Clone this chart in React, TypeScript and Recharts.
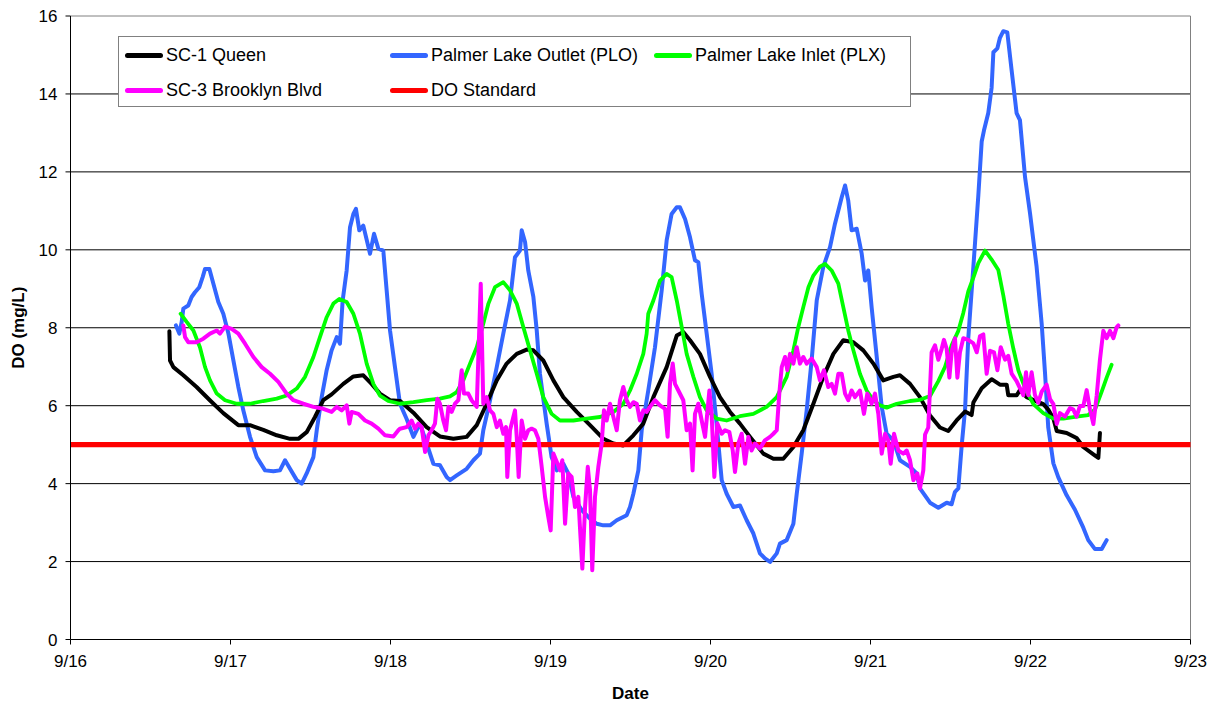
import React from 'react';
import { LineChart, Line, XAxis, YAxis, CartesianGrid, ReferenceLine, Legend } from 'recharts';

// Dissolved oxygen readings, [days after 9/16 00:00, DO mg/L]
const queenSeries: [number, number][] = [
  [0.618, 7.91], [0.622, 7.16], [0.643, 6.99], [0.705, 6.78], [0.788, 6.48], [0.871, 6.14], [0.955, 5.81],
  [1.049, 5.5], [1.122, 5.5], [1.205, 5.38], [1.289, 5.24], [1.372, 5.15], [1.424, 5.15], [1.476, 5.32],
  [1.528, 5.71], [1.58, 6.14], [1.632, 6.29], [1.705, 6.56], [1.768, 6.75], [1.83, 6.78], [1.882, 6.56],
  [1.934, 6.31], [1.997, 6.14], [2.06, 6.12], [2.143, 5.82], [2.226, 5.45], [2.309, 5.21], [2.393, 5.15],
  [2.476, 5.2], [2.539, 5.5], [2.601, 6.05], [2.664, 6.65], [2.726, 7.08], [2.789, 7.33], [2.851, 7.44],
  [2.893, 7.42], [2.955, 7.16], [3.018, 6.65], [3.08, 6.22], [3.164, 5.84], [3.247, 5.5], [3.331, 5.15],
  [3.393, 5.03], [3.455, 4.98], [3.518, 5.24], [3.58, 5.54], [3.643, 6.22], [3.726, 6.99], [3.789, 7.8],
  [3.83, 7.89], [3.872, 7.68], [3.934, 7.33], [3.997, 6.74], [4.059, 6.22], [4.122, 5.84], [4.184, 5.54],
  [4.247, 5.2], [4.33, 4.77], [4.393, 4.64], [4.455, 4.64], [4.518, 4.94], [4.58, 5.37], [4.643, 6.05],
  [4.705, 6.74], [4.768, 7.33], [4.83, 7.68], [4.893, 7.63], [4.955, 7.42], [5.018, 7.08], [5.08, 6.65],
  [5.143, 6.74], [5.184, 6.78], [5.247, 6.56], [5.309, 6.22], [5.372, 5.75], [5.434, 5.44], [5.486, 5.35],
  [5.538, 5.62], [5.591, 5.85], [5.632, 5.76], [5.643, 6.08], [5.695, 6.45], [5.757, 6.68], [5.809, 6.54],
  [5.851, 6.54], [5.861, 6.27], [5.914, 6.27], [5.934, 6.4], [5.976, 6.22], [6.028, 6.13], [6.08, 6.04],
  [6.111, 5.9], [6.143, 5.67], [6.164, 5.35], [6.226, 5.3], [6.288, 5.17], [6.33, 4.94], [6.393, 4.75],
  [6.424, 4.66], [6.434, 5.3],
];

const outletSeries: [number, number][] = [
  [0.659, 8.06], [0.68, 7.85], [0.695, 8.15], [0.705, 8.49], [0.736, 8.57], [0.757, 8.79], [0.778, 8.91],
  [0.805, 9.04], [0.826, 9.3], [0.841, 9.51], [0.868, 9.51], [0.893, 9.13], [0.924, 8.66], [0.955, 8.36],
  [0.987, 7.85], [1.018, 7.16], [1.049, 6.48], [1.08, 5.88], [1.122, 5.2], [1.164, 4.68], [1.216, 4.34],
  [1.268, 4.32], [1.309, 4.34], [1.341, 4.6], [1.372, 4.38], [1.414, 4.09], [1.445, 4.0], [1.476, 4.26],
  [1.518, 4.68], [1.539, 5.37], [1.57, 6.22], [1.601, 6.91], [1.632, 7.42], [1.664, 7.76], [1.684, 7.59],
  [1.701, 8.7], [1.726, 9.47], [1.747, 10.58], [1.768, 10.92], [1.784, 11.05], [1.805, 10.5], [1.83, 10.62],
  [1.872, 9.9], [1.897, 10.41], [1.924, 10.03], [1.955, 9.98], [1.976, 8.96], [1.997, 7.93], [2.028, 6.99],
  [2.059, 6.05], [2.101, 5.66], [2.143, 5.2], [2.184, 5.54], [2.226, 5.03], [2.268, 4.51], [2.309, 4.47],
  [2.351, 4.17], [2.372, 4.09], [2.414, 4.21], [2.476, 4.38], [2.518, 4.6], [2.559, 4.77], [2.58, 5.37],
  [2.622, 6.14], [2.664, 6.99], [2.705, 7.85], [2.747, 8.7], [2.778, 9.81], [2.809, 9.98], [2.82, 10.5],
  [2.841, 10.2], [2.861, 9.47], [2.893, 8.79], [2.914, 7.93], [2.934, 6.82], [2.976, 5.54], [3.007, 4.68],
  [3.039, 4.34], [3.08, 4.51], [3.111, 4.26], [3.143, 3.66], [3.195, 3.32], [3.247, 3.1], [3.289, 2.97],
  [3.33, 2.93], [3.372, 2.93], [3.414, 3.06], [3.476, 3.19], [3.497, 3.4], [3.518, 3.74], [3.549, 4.34],
  [3.57, 5.37], [3.611, 6.39], [3.653, 7.5], [3.695, 8.96], [3.726, 10.24], [3.757, 10.92], [3.789, 11.09],
  [3.809, 11.09], [3.841, 10.79], [3.872, 10.32], [3.903, 9.73], [3.924, 9.68], [3.945, 8.87], [3.976, 7.85],
  [4.007, 6.82], [4.038, 5.54], [4.07, 4.09], [4.101, 3.74], [4.143, 3.4], [4.184, 3.44], [4.226, 3.06],
  [4.268, 2.72], [4.309, 2.21], [4.34, 2.08], [4.372, 1.99], [4.414, 2.21], [4.434, 2.46], [4.476, 2.55],
  [4.518, 2.97], [4.539, 3.74], [4.57, 4.77], [4.601, 5.88], [4.632, 7.16], [4.664, 8.7], [4.705, 9.56],
  [4.747, 10.07], [4.778, 10.67], [4.799, 11.01], [4.82, 11.35], [4.841, 11.65], [4.861, 11.26], [4.882, 10.5],
  [4.914, 10.54], [4.945, 9.9], [4.966, 9.21], [4.986, 9.47], [5.007, 8.53], [5.039, 7.25], [5.07, 5.97],
  [5.101, 5.28], [5.143, 5.11], [5.184, 4.6], [5.247, 4.43], [5.289, 4.26], [5.309, 3.88], [5.372, 3.51],
  [5.424, 3.38], [5.476, 3.51], [5.507, 3.47], [5.528, 3.79], [5.549, 3.88], [5.57, 4.98], [5.591, 5.9],
  [5.611, 7.73], [5.643, 9.57], [5.674, 11.4], [5.695, 12.78], [5.709, 13.06], [5.736, 13.51], [5.757, 14.16],
  [5.768, 15.07], [5.793, 15.17], [5.809, 15.44], [5.83, 15.61], [5.855, 15.58], [5.882, 14.61], [5.913, 13.51],
  [5.934, 13.33], [5.966, 11.86], [5.997, 10.94], [6.038, 9.57], [6.07, 8.1], [6.091, 6.82], [6.111, 5.44],
  [6.143, 4.52], [6.174, 4.16], [6.226, 3.7], [6.278, 3.33], [6.33, 2.87], [6.361, 2.55], [6.403, 2.32],
  [6.445, 2.32], [6.476, 2.55],
];

const inletSeries: [number, number][] = [
  [0.688, 8.36], [0.726, 8.15], [0.768, 7.93], [0.809, 7.5], [0.841, 6.99], [0.872, 6.65], [0.914, 6.31],
  [0.966, 6.14], [1.039, 6.05], [1.122, 6.05], [1.205, 6.12], [1.289, 6.18], [1.351, 6.26], [1.414, 6.44],
  [1.466, 6.74], [1.518, 7.25], [1.559, 7.76], [1.601, 8.27], [1.643, 8.62], [1.68, 8.74], [1.726, 8.66],
  [1.768, 8.36], [1.809, 7.85], [1.851, 7.08], [1.893, 6.56], [1.934, 6.26], [1.986, 6.12], [2.059, 6.05],
  [2.143, 6.09], [2.226, 6.14], [2.309, 6.18], [2.372, 6.24], [2.414, 6.35], [2.455, 6.65], [2.497, 7.08],
  [2.539, 7.5], [2.58, 8.1], [2.612, 8.62], [2.653, 9.04], [2.705, 9.17], [2.747, 8.96], [2.789, 8.62],
  [2.83, 8.02], [2.872, 7.42], [2.914, 6.82], [2.955, 6.22], [3.007, 5.79], [3.059, 5.62], [3.143, 5.62],
  [3.226, 5.67], [3.309, 5.71], [3.393, 5.84], [3.455, 6.05], [3.497, 6.39], [3.539, 6.82], [3.58, 7.33],
  [3.601, 7.85], [3.611, 8.36], [3.643, 8.7], [3.684, 9.21], [3.726, 9.38], [3.757, 9.3], [3.789, 8.7],
  [3.82, 8.02], [3.851, 7.33], [3.893, 6.74], [3.934, 6.22], [3.976, 5.88], [4.038, 5.67], [4.101, 5.62],
  [4.184, 5.73], [4.268, 5.79], [4.351, 5.97], [4.414, 6.22], [4.476, 6.74], [4.518, 7.42], [4.549, 8.02],
  [4.58, 8.53], [4.612, 9.04], [4.643, 9.34], [4.684, 9.57], [4.716, 9.64], [4.757, 9.47], [4.799, 9.13],
  [4.83, 8.53], [4.861, 7.93], [4.893, 7.42], [4.934, 6.82], [4.976, 6.39], [5.018, 6.14], [5.059, 6.01],
  [5.101, 5.95], [5.164, 6.05], [5.247, 6.12], [5.309, 6.15], [5.372, 6.25], [5.424, 6.63], [5.466, 7.0],
  [5.507, 7.55], [5.549, 7.92], [5.58, 8.38], [5.611, 8.93], [5.643, 9.29], [5.674, 9.66], [5.716, 9.98],
  [5.757, 9.75], [5.799, 9.48], [5.83, 8.83], [5.861, 8.1], [5.893, 7.46], [5.924, 6.91], [5.966, 6.45],
  [6.018, 6.04], [6.08, 5.81], [6.143, 5.67], [6.205, 5.67], [6.288, 5.72], [6.361, 5.76], [6.403, 5.9],
  [6.445, 6.36], [6.476, 6.72], [6.507, 7.05],
];

const brooklynSeries: [number, number][] = [
  [0.705, 8.06], [0.716, 7.76], [0.736, 7.63], [0.788, 7.63], [0.83, 7.72], [0.872, 7.85], [0.914, 7.93],
  [0.934, 7.85], [0.966, 8.03], [1.007, 7.97], [1.049, 7.85], [1.091, 7.59], [1.143, 7.25], [1.195, 6.99],
  [1.247, 6.82], [1.299, 6.61], [1.351, 6.31], [1.393, 6.14], [1.455, 6.05], [1.518, 5.97], [1.58, 5.92],
  [1.632, 5.84], [1.664, 5.97], [1.695, 5.88], [1.726, 6.01], [1.743, 5.54], [1.757, 5.84], [1.799, 5.79],
  [1.841, 5.62], [1.882, 5.54], [1.924, 5.41], [1.966, 5.24], [2.018, 5.21], [2.049, 5.37], [2.059, 5.41],
  [2.101, 5.45], [2.132, 5.62], [2.153, 5.41], [2.174, 5.54], [2.195, 5.45], [2.216, 4.81], [2.237, 5.24],
  [2.257, 5.37], [2.278, 5.54], [2.293, 6.18], [2.309, 6.05], [2.33, 5.62], [2.347, 5.37], [2.362, 5.97],
  [2.382, 5.84], [2.403, 6.05], [2.424, 6.14], [2.445, 6.91], [2.459, 6.31], [2.486, 6.31], [2.507, 6.14],
  [2.539, 5.97], [2.564, 9.13], [2.58, 6.05], [2.601, 6.22], [2.622, 5.88], [2.643, 5.79], [2.664, 5.45],
  [2.684, 5.62], [2.705, 5.28], [2.722, 5.45], [2.73, 4.17], [2.747, 5.37], [2.778, 5.88], [2.789, 5.2],
  [2.801, 4.17], [2.82, 5.62], [2.841, 5.15], [2.861, 5.37], [2.882, 5.41], [2.903, 5.37], [2.924, 5.15],
  [2.945, 4.43], [2.966, 3.66], [2.986, 3.15], [3.001, 2.8], [3.018, 4.77], [3.039, 4.56], [3.059, 4.34],
  [3.074, 4.6], [3.091, 2.97], [3.111, 4.26], [3.132, 4.17], [3.153, 3.4], [3.174, 3.66], [3.184, 2.89],
  [3.199, 1.82], [3.216, 3.4], [3.233, 4.43], [3.247, 3.83], [3.261, 1.78], [3.278, 3.66], [3.299, 4.43],
  [3.32, 5.03], [3.334, 5.88], [3.351, 5.62], [3.372, 6.05], [3.393, 5.71], [3.414, 5.37], [3.434, 6.14],
  [3.455, 6.48], [3.476, 6.14], [3.497, 5.97], [3.518, 6.09], [3.539, 6.05], [3.559, 5.62], [3.58, 5.88],
  [3.601, 5.84], [3.622, 5.97], [3.653, 6.14], [3.684, 6.01], [3.716, 5.92], [3.732, 5.2], [3.747, 6.56],
  [3.764, 7.08], [3.778, 6.56], [3.799, 6.39], [3.83, 6.14], [3.851, 5.37], [3.872, 5.54], [3.888, 4.34],
  [3.903, 5.79], [3.924, 6.05], [3.945, 5.62], [3.966, 5.2], [3.993, 6.39], [4.007, 5.79], [4.024, 4.17],
  [4.043, 5.54], [4.07, 5.28], [4.091, 5.37], [4.118, 5.32], [4.139, 4.85], [4.153, 4.3], [4.174, 5.03],
  [4.195, 5.28], [4.216, 4.51], [4.237, 5.2], [4.257, 4.85], [4.278, 5.03], [4.309, 4.9], [4.34, 5.11],
  [4.372, 5.2], [4.393, 5.28], [4.414, 5.37], [4.43, 6.31], [4.445, 6.99], [4.466, 7.25], [4.48, 6.91],
  [4.497, 7.33], [4.518, 7.08], [4.539, 7.5], [4.559, 7.08], [4.58, 7.25], [4.601, 7.08], [4.632, 7.21],
  [4.664, 6.99], [4.684, 6.65], [4.709, 6.91], [4.736, 6.48], [4.757, 6.56], [4.778, 6.31], [4.799, 6.82],
  [4.82, 6.82], [4.841, 6.31], [4.861, 6.14], [4.882, 6.39], [4.903, 6.22], [4.934, 6.39], [4.959, 5.79],
  [4.98, 6.31], [5.007, 6.05], [5.028, 6.31], [5.049, 5.79], [5.07, 4.77], [5.091, 5.28], [5.111, 5.11],
  [5.126, 4.51], [5.147, 5.28], [5.174, 4.85], [5.205, 4.77], [5.226, 4.85], [5.247, 4.6], [5.268, 4.09],
  [5.293, 4.26], [5.309, 3.88], [5.33, 4.34], [5.341, 5.26], [5.361, 5.44], [5.382, 7.37], [5.403, 7.55],
  [5.424, 7.18], [5.445, 7.46], [5.459, 7.69], [5.476, 7.46], [5.493, 6.72], [5.507, 7.37], [5.528, 7.73],
  [5.543, 6.72], [5.559, 7.37], [5.58, 7.73], [5.611, 7.69], [5.643, 7.6], [5.664, 7.37], [5.684, 7.78],
  [5.705, 7.83], [5.726, 6.82], [5.747, 7.41], [5.772, 7.37], [5.793, 6.91], [5.814, 7.5], [5.841, 7.18],
  [5.861, 7.28], [5.882, 6.82], [5.913, 6.63], [5.934, 6.45], [5.955, 6.27], [5.972, 6.86], [5.986, 6.27],
  [6.007, 6.86], [6.028, 6.27], [6.049, 6.08], [6.07, 6.36], [6.101, 6.54], [6.122, 6.17], [6.143, 6.04],
  [6.164, 5.53], [6.184, 5.81], [6.216, 5.72], [6.247, 5.94], [6.268, 5.9], [6.288, 5.72], [6.309, 5.99],
  [6.33, 5.99], [6.351, 6.4], [6.372, 5.9], [6.393, 5.53], [6.414, 6.27], [6.434, 7.18], [6.455, 7.92],
  [6.476, 7.73], [6.497, 7.92], [6.518, 7.73], [6.538, 8.01], [6.549, 8.06],
];

const doStandardSeries: [number, number][] = [
  [0, 5], [7, 5],
];

const dayTicks = [0, 1, 2, 3, 4, 5, 6, 7];
const dayLabels = ['9/16', '9/17', '9/18', '9/19', '9/20', '9/21', '9/22', '9/23'];
const doTicks = [0, 2, 4, 6, 8, 10, 12, 14, 16];
const gridValues = [2, 4, 6, 8, 10, 12, 14];

const seriesNames = ['SC-1 Queen', 'Palmer Lake Outlet (PLO)', 'Palmer Lake Inlet (PLX)', 'SC-3 Brooklyn Blvd', 'DO Standard'];
const seriesColors = ['#000000', '#3366ff', '#00ff00', '#ff00ff', '#ff0000'];
const seriesWidths = [4, 4, 3.8, 4, 5.2];
// paint order of the series (index into the lists above)
const drawOrder = [1, 0, 2, 4, 3];

const toPoints = (rows: [number, number][]) => rows.map(([d, v]) => ({ d, v }));
const seriesData = [queenSeries, outletSeries, inletSeries, brooklynSeries, doStandardSeries].map(toPoints);

const FONT = '"Liberation Sans", Arial, Helvetica, sans-serif';

// legend cells: [series index, column, row]
const legendCells: [number, number, number][] = [
  [0, 0, 0], [1, 1, 0], [2, 2, 0], [3, 0, 1], [4, 1, 1],
];
const legendColumnX = [7, 272, 536];
const legendRowY = [19, 54];

const LegendBox = () => (
  <div
    style={{
      position: 'relative',
      width: 793,
      height: 71,
      boxSizing: 'border-box',
      border: '1px solid #808080',
      background: '#fff',
      fontFamily: FONT,
      fontSize: 18,
      color: '#000',
    }}
  >
    {legendCells.map(([i, c, r]) => (
      <div
        key={seriesNames[i]}
        style={{
          position: 'absolute',
          left: legendColumnX[c] - 1,
          top: legendRowY[r] - 1 - 12,
          height: 24,
          display: 'flex',
          alignItems: 'center',
          whiteSpace: 'nowrap',
        }}
      >
        <span
          style={{
            display: 'inline-block',
            width: 38,
            height: 5,
            borderRadius: 2.5,
            background: seriesColors[i],
            marginRight: 3,
          }}
        />
        <span style={{ lineHeight: '24px' }}>{seriesNames[i]}</span>
      </div>
    ))}
  </div>
);

export default function App() {
  return (
    <div style={{ fontFamily: FONT }}>
      <LineChart width={1211} height={698} margin={{ top: 8, right: 28.5, bottom: 0, left: 0 }}>
        <CartesianGrid vertical={false} horizontalValues={gridValues} stroke="#000" strokeWidth={1} />
        <XAxis
          type="number"
          dataKey="d"
          domain={[0, 7]}
          ticks={dayTicks}
          interval={0}
          allowDataOverflow
          height={66.5}
          tickSize={5}
          tickMargin={10}
          tickFormatter={(v: number) => dayLabels[v] ?? ''}
          tick={{ fontSize: 17, fill: '#000', fontFamily: FONT }}
          stroke="#000"
          label={{
            value: 'Date',
            position: 'insideBottom',
            offset: 7,
            style: { fontSize: 17, fontWeight: 'bold', fill: '#000', fontFamily: FONT },
          }}
        />
        <YAxis
          type="number"
          domain={[0, 16]}
          ticks={doTicks}
          interval={0}
          width={62.5}
          tickSize={5}
          tickMargin={8}
          tick={{ fontSize: 17, fill: '#000', fontFamily: FONT }}
          stroke="#000"
          label={{
            value: 'DO (mg/L)',
            angle: -90,
            position: 'insideLeft',
            offset: 10,
            style: { textAnchor: 'middle', fontSize: 17, fontWeight: 'bold', fill: '#000', fontFamily: FONT },
          }}
        />
        <ReferenceLine y={16} stroke="#808080" strokeWidth={1} />
        <ReferenceLine x={7} stroke="#808080" strokeWidth={1} />
        {drawOrder.map((i) => (
          <Line
            key={seriesNames[i]}
            name={seriesNames[i]}
            data={seriesData[i]}
            dataKey="v"
            type="linear"
            stroke={seriesColors[i]}
            strokeWidth={seriesWidths[i]}
            strokeLinejoin="round"
            strokeLinecap="round"
            dot={false}
            activeDot={false}
            isAnimationActive={false}
          />
        ))}
        <Legend
          layout="vertical"
          align="center"
          verticalAlign="middle"
          wrapperStyle={{ left: 110, top: 28, width: 793, height: 71 }}
          content={() => <LegendBox />}
        />
      </LineChart>
    </div>
  );
}
